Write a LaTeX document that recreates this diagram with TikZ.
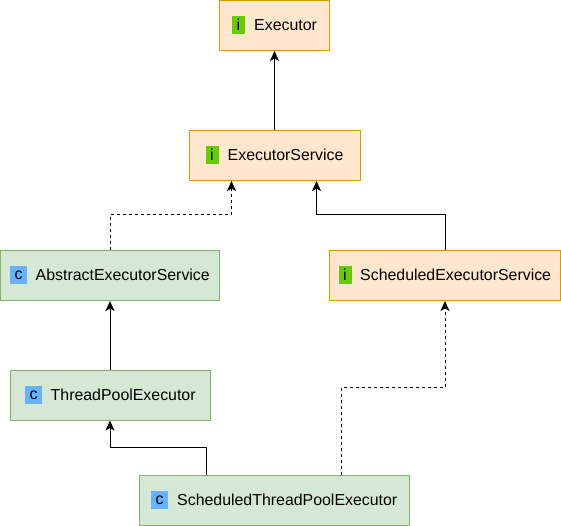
\documentclass[tikz,border=0pt]{standalone}
\usepackage{fontspec}
\setmainfont{Liberation Sans}
\usetikzlibrary{arrows.meta}
\definecolor{ifill}{HTML}{FFE6CC}
\definecolor{istroke}{HTML}{D79B00}
\definecolor{cfill}{HTML}{D5E8D4}
\definecolor{cstroke}{HTML}{82B366}
\definecolor{ibadge}{HTML}{66CC00}
\definecolor{cbadge}{HTML}{66B2FF}
\tikzset{
  x=1pt,y=-1pt,
  base box/.style={draw,line width=1pt,inner sep=0pt,minimum height=50pt,anchor=north west},
  ifacebox/.style={base box,fill=ifill,draw=istroke},
  classbox/.style={base box,fill=cfill,draw=cstroke},
  badge/.style={inner sep=0pt,minimum height=18pt,font=\fontsize{16}{16}\selectfont,text=black},
  ibadgebox/.style={badge,fill=ibadge,minimum width=13pt},
  cbadgebox/.style={badge,fill=cbadge,minimum width=17pt},
  lbl/.style={inner sep=0pt,anchor=base west,font=\fontsize{15.9}{18}\selectfont,text=black},
  conn/.style={line width=1pt,draw=black,-{Stealth[length=10pt,width=9pt,inset=2.5pt]}},
  dconn/.style={conn,dash pattern=on 3pt off 3pt}
}
\begin{document}
\begin{tikzpicture}
\useasboundingbox (0,0) rectangle (561,526);
\node[ifacebox,minimum width=110pt] (ex) at (219,0) {};
\node[ifacebox,minimum width=171pt] (es) at (188.5,130) {};
\node[classbox,minimum width=219pt] (aes) at (0,250) {};
\node[ifacebox,minimum width=231pt] (ses) at (329,250) {};
\node[classbox,minimum width=200pt] (tpe) at (9.5,369.5) {};
\node[classbox,minimum width=270pt] (stp) at (139,475) {};
\node[ibadgebox] (bex) at (238.5,25) {i};
\node[lbl] (tex) at (254,30.5) {Executor};
\node[ibadgebox] (bes) at (212,155) {i};
\node[lbl] (tes) at (227.5,160.5) {ExecutorService};
\node[cbadgebox] (baes) at (18.5,275) {c};
\node[lbl] (taes) at (35.5,280.5) {AbstractExecutorService};
\node[ibadgebox] (bses) at (345,275) {i};
\node[lbl] (tses) at (360,280.5) {ScheduledExecutorService};
\node[cbadgebox] (btpe) at (33.5,395) {c};
\node[lbl] (ttpe) at (50.5,400.5) {ThreadPoolExecutor};
\node[cbadgebox] (bstp) at (159.5,500) {c};
\node[lbl] (tstp) at (177,505.5) {ScheduledThreadPoolExecutor};
\coordinate (jl) at (231.5,215);
\coordinate (jr) at (316.5,215);
\coordinate (js) at (206.5,447.5);
\coordinate (jd) at (341.5,387.5);
\draw[conn] (es) -- (ex);
\draw[dconn] (aes.north) |- (jl) -- (es.south -| jl);
\draw[conn] (ses.north) |- (jr) -- (es.south -| jr);
\draw[conn] (tpe) -- (aes);
\draw[conn] (stp.north -| js) -- (js) -| (tpe.south);
\draw[dconn] (stp.north -| jd) -- (jd) -| (ses.south);
\end{tikzpicture}
\end{document}
